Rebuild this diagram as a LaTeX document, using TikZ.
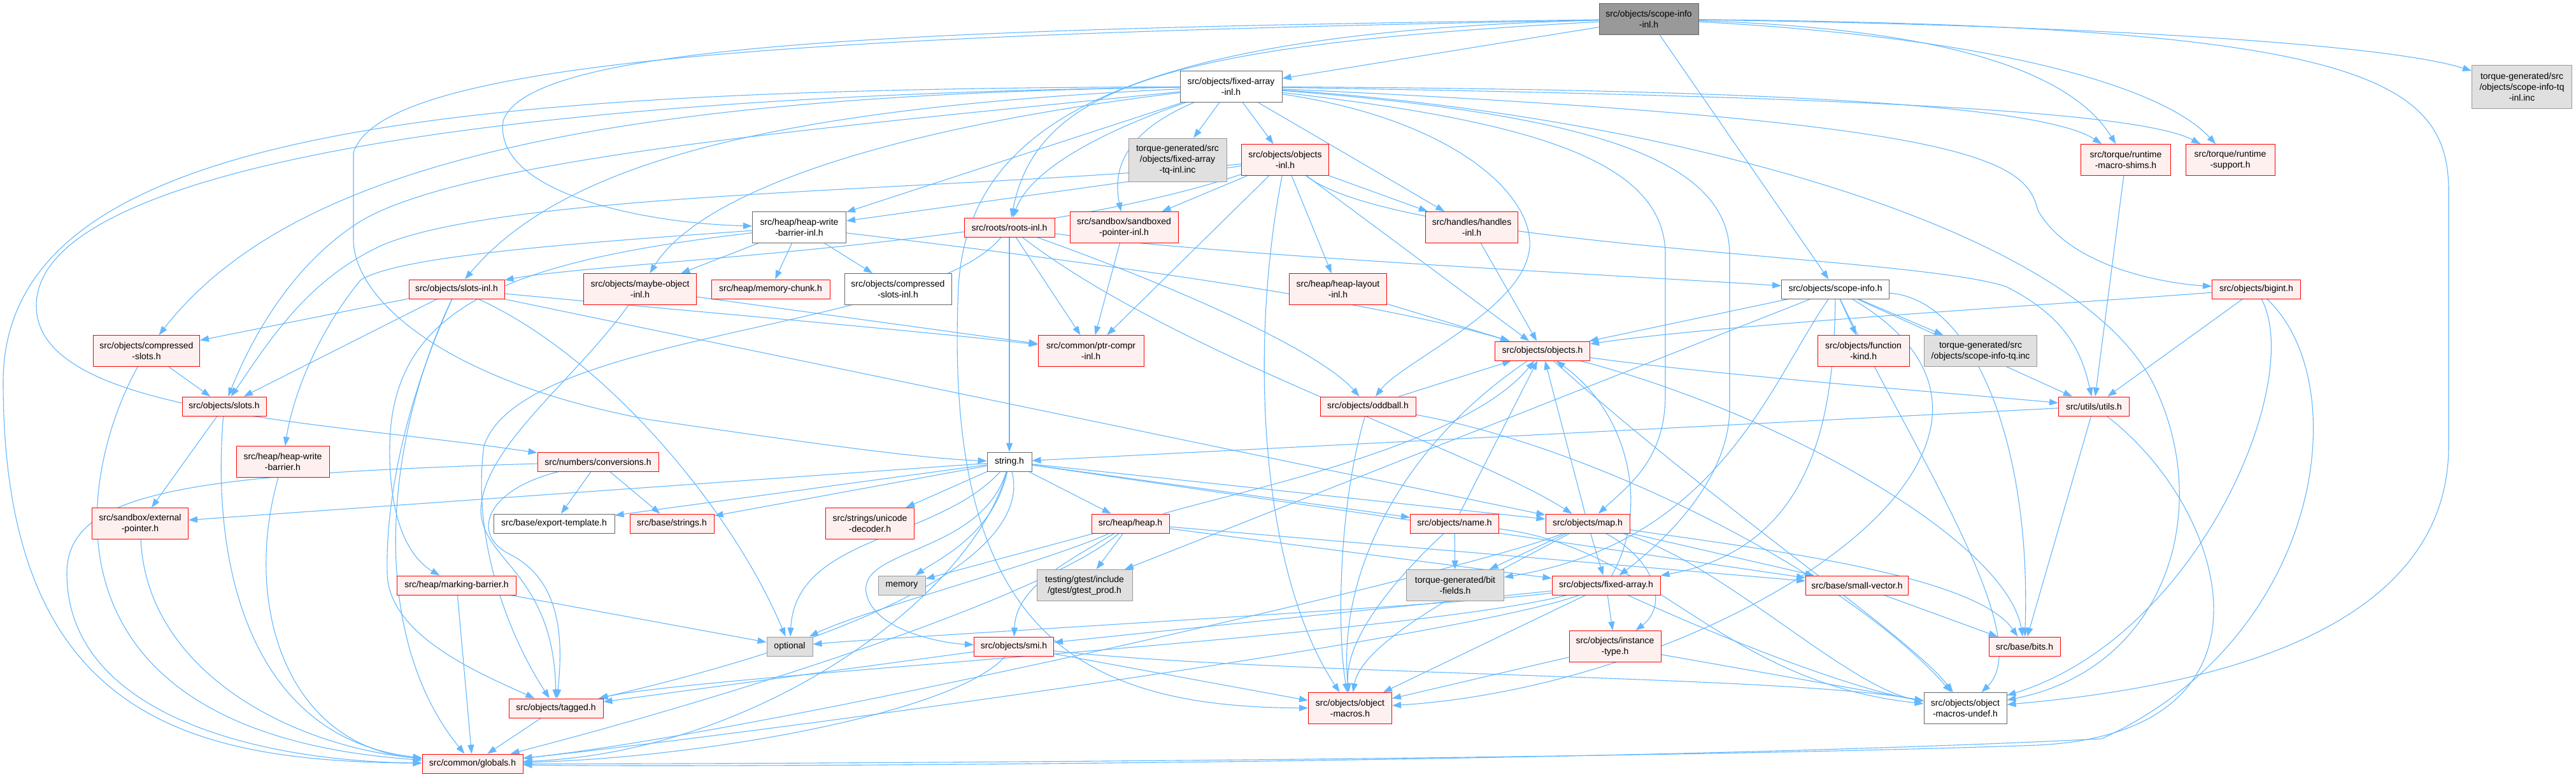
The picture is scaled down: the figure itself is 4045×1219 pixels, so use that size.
\documentclass[tikz,border=0pt]{standalone}
\usepackage{fontspec}
\setmainfont{Liberation Sans}
\usetikzlibrary{arrows.meta}
\definecolor{edgec}{HTML}{63B8FF}
\definecolor{nred}{HTML}{FF0000}
\definecolor{nredfill}{HTML}{FFF0F0}
\definecolor{ngforty}{HTML}{666666}
\definecolor{ngsixty}{HTML}{999999}
\definecolor{ngfill}{HTML}{E0E0E0}
\newcommand\nodefont{\fontsize{14pt}{17pt}\selectfont}
\pgfdeclarelayer{edgelayer}
\pgfsetlayers{edgelayer,main}
\tikzset{
  nd/.style={draw, line width=1pt, inner sep=0pt, align=center, font=\nodefont, text=black},
  redn/.style={nd, draw=nred, fill=nredfill},
  whtn/.style={nd, draw=ngforty, fill=white},
  gryn/.style={nd, draw=ngsixty, fill=ngfill},
  rootn/.style={nd, draw=ngforty, fill=ngsixty},
  sz/.style 2 args={minimum width=#1pt, minimum height=#2pt},
  e/.style={draw=edgec, line width=1.1pt, -{Triangle[length=14pt,width=10pt]}},
}
\begin{document}
\begin{tikzpicture}[x=1pt,y=-1pt]
\useasboundingbox (0,0) rectangle (4045,1219);
\node[rootn, sz={156}{49}] (sii) at (2589,30) {src/objects/scope-info\\-inl.h};
\node[whtn, sz={160}{49}] (fai) at (1933,136) {src/objects/fixed-array\\-inl.h};
\node[gryn, sz={157}{68}] (sitqi) at (3960,136) {torque-generated/src\\/objects/scope-info-tq\\-inl.inc};
\node[gryn, sz={154}{68}] (fatq) at (1849,251) {torque-generated/src\\/objects/fixed-array\\-tq-inl.inc};
\node[redn, sz={137}{49}] (oi) at (2018,251) {src/objects/objects\\-inl.h};
\node[redn, sz={141}{49}] (rms) at (3338,251) {src/torque/runtime\\-macro-shims.h};
\node[redn, sz={140}{49}] (rs) at (3502,251) {src/torque/runtime\\-support.h};
\node[whtn, sz={147}{49}] (hwbi) at (1255,357) {src/heap/heap-write\\-barrier-inl.h};
\node[redn, sz={142}{30}] (ri) at (1585,357) {src/roots/roots-inl.h};
\node[redn, sz={170}{49}] (spi) at (1765,357) {src/sandbox/sandboxed\\-pointer-inl.h};
\node[redn, sz={145}{49}] (hi) at (2311,357) {src/handles/handles\\-inl.h};
\node[redn, sz={150}{30}] (si) at (717,454) {src/objects/slots-inl.h};
\node[redn, sz={177}{49}] (moi) at (1005,454) {src/objects/maybe-object\\-inl.h};
\node[redn, sz={186}{30}] (mc) at (1210,454) {src/heap/memory-chunk.h};
\node[whtn, sz={168}{49}] (csi) at (1410,454) {src/objects/compressed\\-slots-inl.h};
\node[redn, sz={153}{49}] (hli) at (2101,454) {src/heap/heap-layout\\-inl.h};
\node[whtn, sz={169}{30}] (scopeinfo) at (2882,454) {src/objects/scope-info.h};
\node[redn, sz={139}{30}] (bigint) at (3543,454) {src/objects/bigint.h};
\node[redn, sz={167}{49}] (cs) at (230,551) {src/objects/compressed\\-slots.h};
\node[redn, sz={166}{49}] (pci) at (1713,551) {src/common/ptr-compr\\-inl.h};
\node[redn, sz={149}{30}] (objh) at (2422,551) {src/objects/objects.h};
\node[redn, sz={144}{49}] (fk) at (2926,551) {src/objects/function\\-kind.h};
\node[gryn, sz={177}{49}] (sitq) at (3110,551) {torque-generated/src\\/objects/scope-info-tq.inc};
\node[redn, sz={132}{30}] (slots) at (352,638) {src/objects/slots.h};
\node[redn, sz={150}{30}] (oddball) at (2148,638) {src/objects/oddball.h};
\node[redn, sz={111}{30}] (utils) at (3288,638) {src/utils/utils.h};
\node[redn, sz={146}{49}] (hwb) at (444,725) {src/heap/heap-write\\-barrier.h};
\node[redn, sz={190}{30}] (conv) at (939,725) {src/numbers/conversions.h};
\node[whtn, sz={70}{30}] (str) at (1585,725) {string.h};
\node[redn, sz={151}{49}] (ep) at (220,822) {src/sandbox/external\\-pointer.h};
\node[whtn, sz={190}{30}] (et) at (870,822) {src/base/export-template.h};
\node[redn, sz={132}{30}] (bstr) at (1055,822) {src/base/strings.h};
\node[redn, sz={139}{49}] (ud) at (1366,822) {src/strings/unicode\\-decoder.h};
\node[redn, sz={122}{30}] (heap) at (1775,822) {src/heap/heap.h};
\node[redn, sz={139}{30}] (name) at (2284,822) {src/objects/name.h};
\node[redn, sz={132}{30}] (map) at (2493,822) {src/objects/map.h};
\node[redn, sz={187}{30}] (mb) at (717,919) {src/heap/marking-barrier.h};
\node[gryn, sz={74}{30}] (mem) at (1416,919) {memory};
\node[gryn, sz={150}{49}] (gt) at (1703,919) {testing/gtest/include\\/gtest/gtest\_prod.h};
\node[gryn, sz={153}{49}] (bf) at (2285,919) {torque-generated/bit\\-fields.h};
\node[redn, sz={170}{30}] (fa) at (2522,919) {src/objects/fixed-array.h};
\node[redn, sz={161}{30}] (sv) at (2916,919) {src/base/small-vector.h};
\node[gryn, sz={72}{30}] (opt) at (1240,1015) {optional};
\node[redn, sz={125}{30}] (smi) at (1592,1015) {src/objects/smi.h};
\node[redn, sz={144}{49}] (it) at (2536,1015) {src/objects/instance\\-type.h};
\node[redn, sz={112}{30}] (bits) at (3179,1015) {src/base/bits.h};
\node[redn, sz={148}{30}] (tagged) at (873,1112) {src/objects/tagged.h};
\node[redn, sz={131}{49}] (om) at (2120,1112) {src/objects/object\\-macros.h};
\node[whtn, sz={130}{49}] (omu) at (3086,1112) {src/objects/object\\-macros-undef.h};
\node[redn, sz={158}{30}] (glob) at (742,1199) {src/common/globals.h};
\begin{pgfonlayer}{edgelayer}
\fill[white] (0,0) rectangle (4045,1219);
% scope-info-inl
\draw[e] (sii) -- (fai);
\draw[e] (sii) .. controls (1400,45) and (830,70) .. (790,190) .. controls (775,300) and (1000,350) .. (hwbi);
\draw[e] (sii) .. controls (1850,70) and (1630,130) .. (ri);
\draw[e] (sii) .. controls (1300,55) and (600,90) .. (555,240) -- (555,376) .. controls (555,470) and (700,600) .. (1020,659) .. controls (1300,700) and (1450,720) .. (str);
\draw[e] (sii) -- (scopeinfo);
\draw[e] (sii) .. controls (1750,50) and (1520,200) .. (1505,450) .. controls (1480,1000) and (1700,1110) .. (om);
\draw[e] (sii) .. controls (3700,40) and (3845,120) .. (3845,300) -- (3845,700) .. controls (3845,1000) and (3450,1080) .. (omu);
\draw[e] (sii) .. controls (3300,40) and (3750,70) .. (sitqi);
\draw[e] (sii) .. controls (3050,45) and (3250,110) .. (rms);
\draw[e] (sii) .. controls (3150,60) and (3400,140) .. (rs);
% fixed-array-inl
\draw[e] (fai) -- (fatq);
\draw[e] (fai) -- (oi);
\draw[e] (fai) -- (hwbi);
\draw[e] (fai) .. controls (1750,200) and (1620,260) .. (ri);
\draw[e] (fai) .. controls (1760,210) and (1748,270) .. (spi);
\draw[e] (fai) -- (hi);
\draw[e] (fai) .. controls (2700,140) and (3200,160) .. (rms);
\draw[e] (fai) .. controls (2800,150) and (3350,170) .. (rs);
\draw[e] (fai) .. controls (3100,190) and (3180,250) .. (3200,330) .. controls (3250,420) and (3400,445) .. (bigint);
\draw[e] (fai) .. controls (1200,170) and (880,260) .. (si);
\draw[e] (fai) .. controls (1400,200) and (1100,300) .. (moi);
\draw[e] (fai) .. controls (900,150) and (450,270) .. (cs);
\draw[e] (fai) .. controls (1300,200) and (700,250) .. (553,356) .. controls (460,420) and (400,520) .. (slots);
\draw[e] (fai) .. controls (700,140) and (5,200) .. (5,600) .. controls (5,1130) and (300,1195) .. (glob);
\draw[e] (fai) .. controls (800,150) and (57,260) .. (57,480) .. controls (57,650) and (500,660) .. (conv);
\draw[e] (fai) .. controls (2300,190) and (2420,320) .. (2400,400) .. controls (2380,490) and (2200,570) .. (oddball);
\draw[e] (fai) .. controls (2400,190) and (2615,250) .. (2615,400) -- (2615,620) .. controls (2615,720) and (2560,760) .. (map);
\draw[e] (fai) .. controls (2500,180) and (2716,250) .. (2716,400) -- (2716,640) .. controls (2716,760) and (2600,860) .. (fa);
\draw[e] (fai) .. controls (2600,180) and (3250,350) .. (3380,600) .. controls (3480,800) and (3400,1050) .. (omu);
% objects-inl
\draw[e] (oi) -- (hwbi);
\draw[e] (oi) -- (spi);
\draw[e] (oi) -- (hi);
\draw[e] (oi) -- (hli);
\draw[e] (oi) -- (objh);
\draw[e] (oi) .. controls (1600,390) and (950,410) .. (si);
\draw[e] (oi) -- (pci);
\draw[e] (oi) .. controls (1500,300) and (800,300) .. (600,385) .. controls (480,440) and (420,540) .. (slots);
\draw[e] (oi) .. controls (2200,390) and (3000,400) .. (3150,450) .. controls (3250,500) and (3270,560) .. (utils);
\draw[e] (oi) .. controls (1960,550) and (1980,900) .. (om);
% heap-write-barrier-inl
\draw[e] (hwbi) -- (mc);
\draw[e] (hwbi) -- (csi);
\draw[e] (hwbi) -- (moi);
\draw[e] (hwbi) .. controls (850,385) and (620,405) .. (566,440) .. controls (500,520) and (460,620) .. (hwb);
\draw[e] (hwbi) .. controls (800,410) and (615,480) .. (612,700) .. controls (610,830) and (650,880) .. (mb);
\draw[e] (hwbi) .. controls (1700,410) and (2150,470) .. (objh);
% roots-inl
\draw[e] (ri) -- (pci);
\draw[e] (ri) -- (str);
\draw[e] (ri) .. controls (1900,400) and (2500,430) .. (scopeinfo);
\draw[e] (ri) .. controls (1900,470) and (2080,560) .. (oddball);
\draw[e] (ri) .. controls (1850,560) and (2300,700) .. (map);
\draw[e] (ri) .. controls (1450,520) and (820,520) .. (760,700) .. controls (740,850) and (800,1000) .. (tagged);
% misc upper
\draw[e] (spi) -- (pci);
\draw[e] (hi) -- (objh);
\draw[e] (hli) -- (objh);
\draw[e] (moi) -- (pci);
\draw[e] (moi) .. controls (900,600) and (760,700) .. (755,800) .. controls (755,880) and (870,900) .. (tagged);
% slots-inl
\draw[e] (si) -- (cs);
\draw[e] (si) -- (slots);
\draw[e] (si) .. controls (1100,490) and (1450,520) .. (pci);
\draw[e] (si) .. controls (600,700) and (580,1000) .. (glob);
\draw[e] (si) -- (map);
\draw[e] (si) .. controls (950,560) and (1150,800) .. (opt);
\draw[e] (si) .. controls (650,600) and (605,760) .. (608,900) .. controls (610,1000) and (760,1060) .. (tagged);
% left side
\draw[e] (cs) -- (slots);
\draw[e] (cs) .. controls (120,750) and (50,1150) .. (glob);
\draw[e] (slots) -- (ep);
\draw[e] (slots) .. controls (330,900) and (400,1160) .. (glob);
\draw[e] (ep) .. controls (230,1050) and (450,1170) .. (glob);
\draw[e] (hwb) .. controls (380,950) and (450,1170) .. (glob);
% conversions
\draw[e] (conv) -- (et);
\draw[e] (conv) -- (bstr);
\draw[e] (conv) .. controls (300,745) and (105,770) .. (105,900) .. controls (105,1120) and (400,1195) .. (glob);
\draw[e] (conv) .. controls (760,770) and (740,840) .. (800,870) .. controls (880,910) and (885,1000) .. (tagged);
% string.h
\draw[e] (str) -- (ud);
\draw[e] (str) -- (heap);
\draw[e] (str) -- (bstr);
\draw[e] (str) -- (et);
\draw[e] (str) -- (ep);
\draw[e] (str) .. controls (1470,850) and (1250,840) .. (opt);
\draw[e] (str) .. controls (1560,840) and (1470,880) .. (mem);
\draw[e] (str) .. controls (1540,870) and (1350,860) .. (1360,930) .. controls (1370,990) and (1480,1010) .. (smi);
\draw[e] (str) .. controls (1620,860) and (1400,990) .. (tagged);
\draw[e] (str) -- (name);
\draw[e] (str) -- (map);
\draw[e] (str) -- (sv);
\draw[e] (str) .. controls (1530,930) and (1200,1180) .. (glob);
% heap.h
\draw[e] (heap) -- (gt);
\draw[e] (heap) -- (mem);
\draw[e] (heap) .. controls (1650,880) and (1350,960) .. (opt);
\draw[e] (heap) .. controls (1680,880) and (1595,920) .. (smi);
\draw[e] (heap) .. controls (1650,930) and (1200,1080) .. (glob);
\draw[e] (heap) .. controls (1950,770) and (2300,700) .. (objh);
\draw[e] (heap) -- (sv);
\draw[e] (heap) -- (fa);
% name.h
\draw[e] (name) -- (bf);
\draw[e] (name) -- (objh);
\draw[e] (name) .. controls (2200,900) and (2110,1000) .. (om);
\draw[e] (name) .. controls (2600,860) and (2700,1070) .. (omu);
% map.h
\draw[e] (map) -- (bf);
\draw[e] (map) -- (fa);
\draw[e] (map) .. controls (2600,880) and (2620,950) .. (it);
\draw[e] (map) -- (objh);
\draw[e] (map) .. controls (2350,900) and (2140,1000) .. (om);
\draw[e] (map) -- (sv);
\draw[e] (map) .. controls (2750,860) and (3100,900) .. (bits);
\draw[e] (map) .. controls (2700,880) and (2900,1080) .. (omu);
\draw[e] (map) .. controls (2300,900) and (1200,1150) .. (glob);
% fixed-array.h
\draw[e] (fa) -- (it);
\draw[e] (fa) -- (om);
\draw[e] (fa) .. controls (2700,1000) and (2900,1080) .. (omu);
\draw[e] (fa) .. controls (2590,800) and (2560,650) .. (objh);
\draw[e] (fa) -- (smi);
\draw[e] (fa) .. controls (2300,950) and (1400,1000) .. (opt);
\draw[e] (fa) .. controls (2200,1000) and (1100,1060) .. (tagged);
\draw[e] (fa) .. controls (2300,1000) and (1200,1150) .. (glob);
\draw[e] (it) -- (om);
\draw[e] (it) -- (omu);
% scope-info.h
\draw[e] (scopeinfo) -- (fk);
\draw[e] (scopeinfo) -- (sitq);
\draw[e] (scopeinfo) -- (utils);
\draw[e] (scopeinfo) -- (objh);
\draw[e] (scopeinfo) .. controls (2780,600) and (2700,850) .. (bf);
\draw[e] (scopeinfo) .. controls (2880,650) and (2850,860) .. (fa);
\draw[e] (scopeinfo) .. controls (3100,470) and (3190,700) .. (bits);
\draw[e] (scopeinfo) .. controls (3300,700) and (2700,1075) .. (om);
\draw[e] (scopeinfo) .. controls (3000,700) and (3200,1000) .. (omu);
\draw[e] (scopeinfo) -- (gt);
% bigint.h
\draw[e] (bigint) -- (utils);
\draw[e] (bigint) .. controls (3200,480) and (2700,510) .. (objh);
\draw[e] (bigint) .. controls (3620,600) and (3450,1000) .. (omu);
\draw[e] (bigint) .. controls (3700,600) and (3650,1000) .. (3300,1160) .. controls (2500,1200) and (1000,1205) .. (glob);
% others
\draw[e] (rms) -- (utils);
\draw[e] (utils) -- (bits);
\draw[e] (utils) -- (str);
\draw[e] (utils) .. controls (3500,800) and (3600,1150) .. (3200,1170) .. controls (2500,1195) and (1000,1200) .. (glob);
\draw[e] (sv) -- (bits);
\draw[e] (smi) -- (tagged);
\draw[e] (smi) -- (om);
\draw[e] (smi) .. controls (2000,1060) and (2800,1060) .. (omu);
\draw[e] (smi) .. controls (1500,1120) and (1100,1190) .. (glob);
\draw[e] (tagged) -- (glob);
\draw[e] (mb) -- (glob);
\draw[e] (mb) -- (opt);
\draw[e] (objh) .. controls (2700,590) and (3100,620) .. (utils);
\draw[e] (objh) .. controls (2200,700) and (2100,900) .. (om);
\draw[e] (objh) .. controls (2700,800) and (3000,1000) .. (omu);
\draw[e] (objh) .. controls (2800,650) and (3150,850) .. (bits);
\draw[e] (oddball) -- (objh);
\draw[e] (oddball) .. controls (2100,800) and (2100,1000) .. (om);
\draw[e] (oddball) .. controls (2500,700) and (2900,900) .. (omu);
\end{pgfonlayer}
\end{tikzpicture}
\end{document}
